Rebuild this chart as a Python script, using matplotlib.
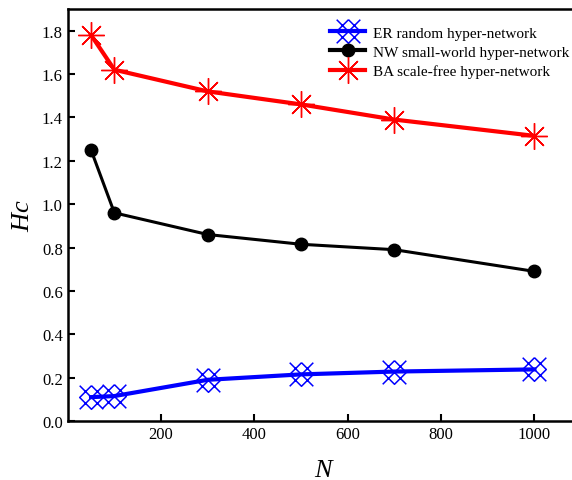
import matplotlib
matplotlib.use("Agg")
import matplotlib.pyplot as plt
from matplotlib.lines import Line2D
from matplotlib.path import Path

plt.rcParams['font.family'] = ['Liberation Serif', 'DejaVu Serif']
plt.rcParams['mathtext.fontset'] = 'custom'
plt.rcParams['mathtext.it'] = 'Liberation Serif:italic'

N = [50, 100, 300, 500, 700, 1000]
er = [0.11, 0.115, 0.19, 0.215, 0.228, 0.238]
nw = [1.25, 0.96, 0.86, 0.815, 0.79, 0.69]
ba = [1.78, 1.62, 1.52, 1.46, 1.39, 1.315]
labels = ["ER random hyper-network", "NW small-world hyper-network", "BA scale-free hyper-network"]

# crossed diamond marker: X + diamond
verts = [(-1, -1), (1, 1), (-1, 1), (1, -1),
         (0, 1), (1, 0), (0, -1), (-1, 0), (0, 1)]
codes = [Path.MOVETO, Path.LINETO, Path.MOVETO, Path.LINETO,
         Path.MOVETO, Path.LINETO, Path.LINETO, Path.LINETO, Path.LINETO]
xd = Path(verts, codes)

W, H = 572, 481
fig = plt.figure(figsize=(W/100, H/100), dpi=100)
x0, x1 = 67.7, 67.7 + 1100*0.4667
y0, y1 = 422, 10
ax = fig.add_axes([x0/W, 1 - y0/H, (x1-x0)/W, (y0-y1)/H])

er_kw = dict(color='blue', lw=3, marker=xd, ms=17, mfc='none', mec='blue', mew=1.1)
nw_kw = dict(color='black', lw=2.2, marker='o', ms=9)
ba_kw = dict(color='red', lw=3, marker=(8, 2, 0), ms=19, mew=1)

ax.plot(N, er, zorder=3, **er_kw)
ax.plot(N, nw, zorder=3, **nw_kw)
ax.plot(N, ba, zorder=3, **ba_kw)

ax.set_xlim(0, 1100)
ax.set_ylim(0, 1.9)
ax.set_xticks([200, 400, 600, 800, 1000])
ax.set_yticks([0.0, 0.2, 0.4, 0.6, 0.8, 1.0, 1.2, 1.4, 1.6, 1.8])
ax.set_yticklabels([f"{v:.1f}" for v in ax.get_yticks()])
ax.tick_params(direction='in', length=5, width=1.5, labelsize=12)
for s in ax.spines.values():
    s.set_linewidth(1.8)
ax.spines['right'].set_visible(False)

ax.set_xlabel('$N$', fontsize=19, labelpad=12)
ax.set_ylabel('$Hc$', fontsize=19, labelpad=6)

h_er = Line2D([], [], **er_kw)
h_nw = Line2D([], [], **{**nw_kw, 'lw': 3})
h_ba = Line2D([], [], **ba_kw)
leg = ax.legend([h_er, h_nw, h_ba], labels, loc='upper left',
                bbox_to_anchor=((330 - x0)/(x1 - x0), 1 - 17/(y0 - y1)),
                frameon=False, fontsize=11, handlelength=2.3, handletextpad=0.5,
                labelspacing=0.35, borderpad=0, borderaxespad=0)

fig.savefig('out.png', dpi=100)
